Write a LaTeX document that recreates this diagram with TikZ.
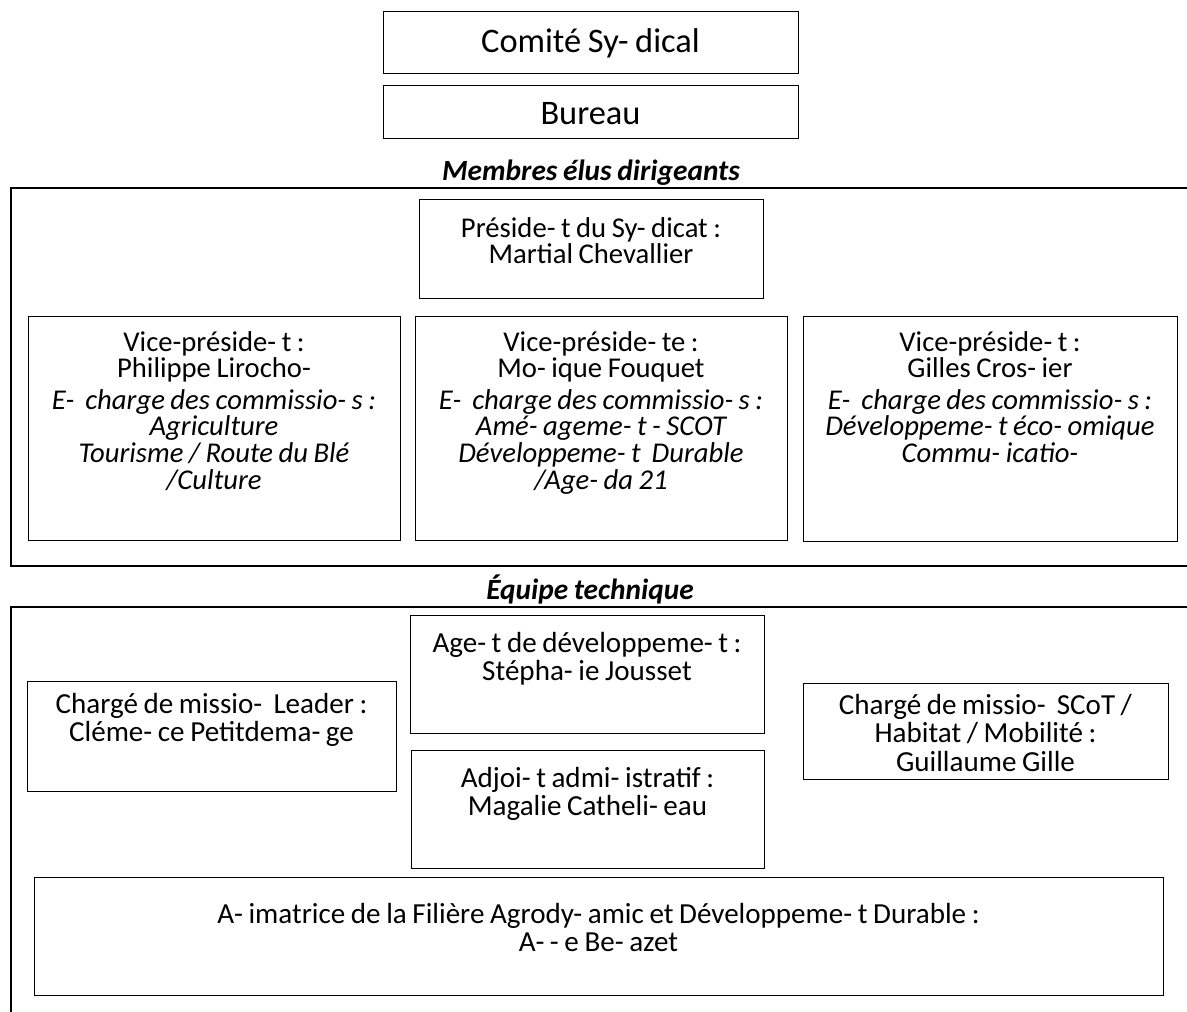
\documentclass[tikz,border=0pt]{standalone}
\usepackage{fontspec}
\setmainfont{Carlito}[WordSpace=0.85]
\usetikzlibrary{calc}
\newcommand\mkbox[5]{\node[box, minimum width=#4*0.75pt, minimum height=#5*0.75pt] (#1) at (#2,#3) {};}
\begin{document}
\begin{tikzpicture}[x=0.75pt,y=-0.75pt, line width=0.9pt,
  box/.style={draw, rectangle, inner sep=0pt, anchor=north west},
  txt/.style={anchor=base, inner sep=0pt, text width=#1, align=flush center,
    font=\fontsize{21.5}{20}\selectfont},
  txt/.default=270pt,
  txtb/.style={txt=#1, font=\fontsize{21.8}{21.5}\selectfont},
  txtb/.default=270pt,
  big/.style={anchor=base, inner sep=0pt, font=\fontsize{25.8}{24}\selectfont},
  lbl/.style={anchor=base, inner sep=0pt, font=\fontsize{22}{20}\selectfont\bfseries\itshape},
  frame/.style={line width=0.9pt}]
\useasboundingbox (0,0) rectangle (1187,1011);

% top boxes
\mkbox{comite}{383}{11}{415}{62}
\node[big] (comitet) at (590.5,52) {Comité Sy- dical};
\mkbox{bureau}{383}{85}{415}{53}
\node[big] (bureaut) at (590.5,124) {Bureau};

% frame 1
\node[lbl] (membres) at (591,180) {Membres élus dirigeants};
\draw[frame] (1195,188) -- (11,188) -- (11,566) -- (1195,566);

\mkbox{pres}{419}{199}{344}{99}
\node[txt] (prest) at (591,237) {Préside- t du Sy- dicat :\\Martial Chevallier};

\mkbox{vpa}{28}{316}{372}{224}
\node[txt] (vpat) at (214,351) {Vice-préside- t :\\Philippe Lirocho-\\[3.5pt]\itshape E-~ charge des commissio- s :\\Agriculture\\Tourisme / Route du Blé\\/Culture};

\mkbox{vpb}{415}{316}{372}{224}
\node[txt] (vpbt) at (601,351) {Vice-préside- te :\\Mo- ique Fouquet\\[3.5pt]\itshape E-~ charge des commissio- s :\\Amé- ageme- t - SCOT\\Développeme- t~ Durable\\/Age- da 21};

\mkbox{vpc}{803}{316}{374}{225}
\node[txt] (vpct) at (990,351) {Vice-préside- t :\\Gilles Cros- ier\\[3.5pt]\itshape E-~ charge des commissio- s :\\Développeme- t éco- omique\\Commu- icatio-};

% frame 2
\node[lbl] (equipe) at (590,599) {Équipe technique};
\draw[frame] (1195,607) -- (11,607) -- (11,1020);

\mkbox{agent}{410}{615}{354}{118}
\node[txtb] (agentt) at (587,652) {Age- t de développeme- t :\\Stépha- ie Jousset};

\mkbox{leader}{27}{681}{369}{110}
\node[txtb] (leadert) at (211.5,713) {Chargé de missio-~ Leader :\\Cléme- ce Petitdema- ge};

\mkbox{adjoint}{411}{750}{353}{118}
\node[txtb] (adjointt) at (587.5,787) {Adjoi- t admi- istratif :\\Magalie Catheli- eau};

\mkbox{scot}{803}{683}{365}{96}
\node[txtb] (scott) at (985.5,714) {Chargé de missio-~ SCoT /\\Habitat / Mobilité :\\Guillaume Gille};

\mkbox{anim}{34}{877}{1129}{118}
\node[txtb=820pt] (animt) at (598.5,923) {A- imatrice de la Filière Agrody- amic et Développeme- t Durable :\\A- - e Be- azet};
\end{tikzpicture}
\end{document}
